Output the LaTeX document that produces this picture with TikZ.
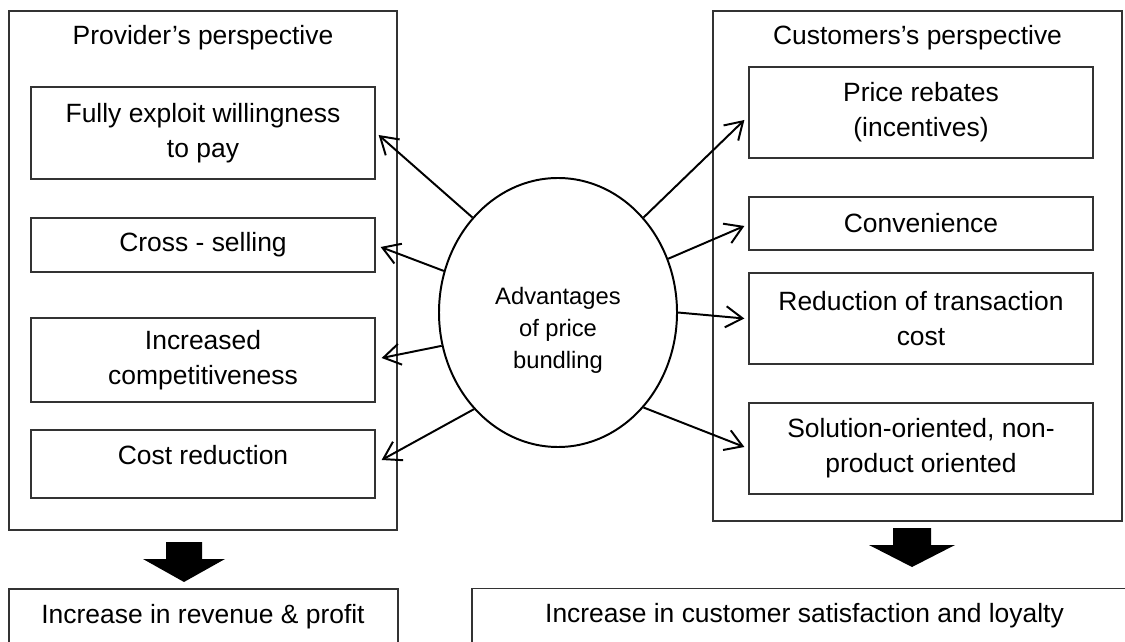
\documentclass[tikz,border=0pt]{standalone}
\usepackage{fontspec}
\setmainfont{Liberation Sans}
\usetikzlibrary{arrows.meta,calc,shapes.geometric}
\begin{document}
\begin{tikzpicture}[x=0.025cm,y=-0.025cm,
  frame/.style={draw=black!80, line width=0.9pt, inner sep=0pt},
  item/.style={frame, align=center, font=\fontsize{18.8}{24.9}\selectfont,
    minimum width=344*0.025cm},
  caption/.style={font=\fontsize{18.8}{24.9}\selectfont, anchor=base, inner sep=0pt},
  link/.style={line width=1.4pt,
    -{Straight Barb[length=12pt,width=15pt,line width=1.4pt]}}]

% page area
\useasboundingbox (0,0) rectangle (1125,642);
\fill[white] (0,0) rectangle (1125,642);

% provider side
\node[frame, minimum width=388*0.025cm, minimum height=519*0.025cm] (provider) at (203,270.5) {};
\node[caption] (ptitle) at (203,45) {Provider’s perspective};
\node[item, minimum height=92*0.025cm] (p1) at (203,133) {Fully exploit willingness\\to pay};
\node[item, minimum height=54*0.025cm] (p2) at (203,245) {Cross - selling};
\node[item, minimum height=84*0.025cm] (p3) at (203,360) {Increased\\competitiveness};
\node[item, minimum height=68*0.025cm, text height=13.7pt, text depth=13.7pt] (p4) at (203,464) {Cost reduction};

% customer side
\node[frame, minimum width=409*0.025cm, minimum height=510*0.025cm] (customer) at (917.5,266) {};
\node[caption] (ctitle) at (917.5,45) {Customers’s perspective};
\node[item, minimum height=91*0.025cm] (c1) at (921,112.5) {Price rebates\\(incentives)};
\node[item, minimum height=53*0.025cm] (c2) at (921,223.5) {Convenience};
\node[item, minimum height=91*0.025cm] (c3) at (921,318.5) {Reduction of transaction\\cost};
\node[item, minimum height=91*0.025cm] (c4) at (921,448.5) {Solution-oriented, non-\\product oriented};

% central ellipse
\node[draw, ellipse, line width=1.4pt, inner sep=0pt,
  minimum width=238*0.025cm, minimum height=269*0.025cm] (ell) at (558,312.5) {};
\node[font=\fontsize{16.9}{22.8}\selectfont, align=center, inner sep=0pt] (adv) at (558,330)
  {Advantages\\of price\\bundling};

% arrows from the ellipse to the advantages
\draw[link] (ell.132) -- ($(p1.east)+(3,2)$);
\draw[link] (ell.160) -- ($(p2.east)+(5,2)$);
\draw[link] (ell.196) -- ($(p3.east)+(6,-2)$);
\draw[link] (ell.229) -- ($(p4.east)+(6,-4)$);
\draw[link] (ell.48) -- ($(c1.west)+(-4,7.5)$);
\draw[link] (ell.26) -- ($(c2.west)+(-4,2.5)$);
\draw[link] (ell.0) -- ($(c3.west)+(-4,0)$);
\draw[link] (ell.312) -- ($(c4.west)+(-4,-1.5)$);

% block arrows to the outcomes
\fill (166,542) -- (202,542) -- (202,559) -- (225,559) -- (184,582) -- (143,559) -- (166,559) -- cycle;
\fill (893,528) -- (931,528) -- (931,545) -- (955,545) -- (912,567) -- (869,545) -- (893,545) -- cycle;

% outcomes
\node[frame, minimum width=389*0.025cm, minimum height=100*0.025cm] (revenue) at (203.5,639) {};
\node[caption] (revtext) at (203,623) {Increase in revenue \& profit};
\node[frame, minimum width=700*0.025cm, minimum height=100*0.025cm] (loyalty) at (822,638.5) {};
\node[caption] (loytext) at (804.5,622) {Increase in customer satisfaction and loyalty};
\end{tikzpicture}
\end{document}
